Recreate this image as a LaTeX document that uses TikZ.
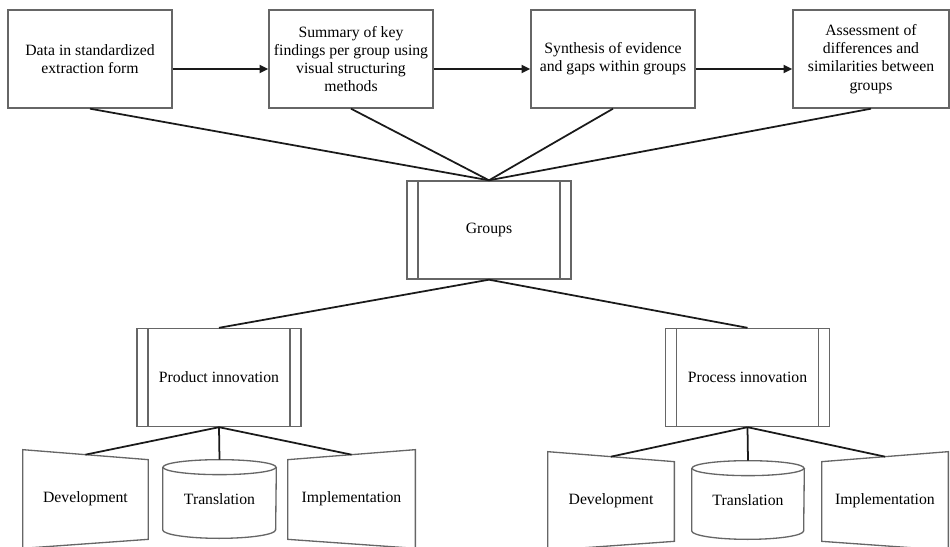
\documentclass[tikz,border=0pt]{standalone}
\usepackage{fontspec}
\setmainfont{Liberation Serif}
\usetikzlibrary{arrows.meta,calc}

\definecolor{edgegray}{HTML}{666666}
\definecolor{wire}{HTML}{1A1A1A}

\tikzset{
  lbl/.style={font=\fontsize{8.95}{10.4}\selectfont, text=black, align=center},
  stepbox/.style={lbl, draw=edgegray, line width=0.8pt, fill=white,
    minimum width=3.28cm, minimum height=1.96cm, inner sep=2pt},
  predef/.style={stepbox,
    path picture={
      \draw[edgegray, line width=0.8pt]
        ([xshift=0.22cm]path picture bounding box.north west) --
        ([xshift=0.22cm]path picture bounding box.south west);
      \draw[edgegray, line width=0.8pt]
        ([xshift=-0.22cm]path picture bounding box.north east) --
        ([xshift=-0.22cm]path picture bounding box.south east);
    }},
  holder/.style={lbl, minimum height=1.96cm, inner sep=0pt},
  outline/.style={draw=edgegray, line width=0.75pt},
  link/.style={draw=wire, line width=1pt},
  flow/.style={link, -{Triangle[length=5pt,width=4.6pt]}},
}

\begin{document}
\begin{tikzpicture}[x=0.02cm, y=-0.02cm]
\useasboundingbox (0,0) rectangle (950,547);

% process steps along the top
\node[stepbox] (b1) at (90,59) {Data in standardized\\extraction form};
\node[stepbox] (b2) at (351,59) {Summary of key\\findings per group using\\visual structuring\\methods};
\node[stepbox] (b3) at (613,59) {Synthesis of evidence\\and gaps within groups};
\node[stepbox, minimum width=3.12cm] (b4) at (871,59) {Assessment of\\differences and\\similarities between\\groups};

\draw[flow] ([yshift=-0.2cm]b1.east) -- ([yshift=-0.2cm]b2.west);
\draw[flow] ([yshift=-0.2cm]b2.east) -- ([yshift=-0.2cm]b3.west);
\draw[flow] ([yshift=-0.2cm]b3.east) -- ([yshift=-0.2cm]b4.west);

% central grouping
\node[predef] (g) at (489,230) {Groups};
\foreach \b in {b1,b2,b3,b4} \draw[link] (\b.south) -- (g.north);

% the two innovation branches
\node[predef] (prod) at (219,377.5) {Product innovation};
\node[predef] (proc) at (747.5,377.5) {Process innovation};
\draw[link] (g.south) -- (prod.north);
\draw[link] (g.south) -- (proc.north);

% leaves: development (manual input), translation (store), implementation
\node[holder, minimum width=2.5cm] (devL) at (85.5,499) {Development};
\node[holder, minimum width=2.26cm, minimum height=1.56cm] (trL) at (219.5,499) {Translation};
\node[holder, minimum width=2.54cm] (impL) at (351.5,499) {Implementation};

\node[holder, minimum width=2.52cm] (devR) at (611,501) {Development};
\node[holder, minimum width=2.24cm, minimum height=1.56cm] (trR) at (748,500) {Translation};
\node[holder, minimum width=2.52cm] (impR) at (885,501) {Implementation};

\foreach \d in {devL,devR}
  \draw[outline] (\d.north west) -- ([yshift=-0.2cm]\d.north east)
    -- ([yshift=0.18cm]\d.south east) -- (\d.south west) -- cycle;
\foreach \d in {impL,impR}
  \draw[outline] (\d.north east) -- ([yshift=-0.2cm]\d.north west)
    -- ([yshift=0.18cm]\d.south west) -- (\d.south east) -- cycle;

\foreach \t/\rx in {trL/1.13cm, trR/1.12cm} {
  \draw[outline] ([yshift=-0.15cm]\t.north) ellipse [x radius=\rx, y radius=0.15cm];
  \draw[outline] ([yshift=-0.15cm]\t.north west) -- ([yshift=0.17cm]\t.south west)
    arc[start angle=180, end angle=360, x radius=\rx, y radius=0.17cm]
    -- ([yshift=-0.15cm]\t.north east);
}

\draw[link] (prod.south) -- ([yshift=-0.1cm]devL.north);
\draw[link] (prod.south) -- (trL.north);
\draw[link] (prod.south) -- ([yshift=-0.1cm]impL.north);
\draw[link] (proc.south) -- ([yshift=-0.1cm]devR.north);
\draw[link] (proc.south) -- (trR.north);
\draw[link] (proc.south) -- ([yshift=-0.1cm]impR.north);
\end{tikzpicture}
\end{document}
